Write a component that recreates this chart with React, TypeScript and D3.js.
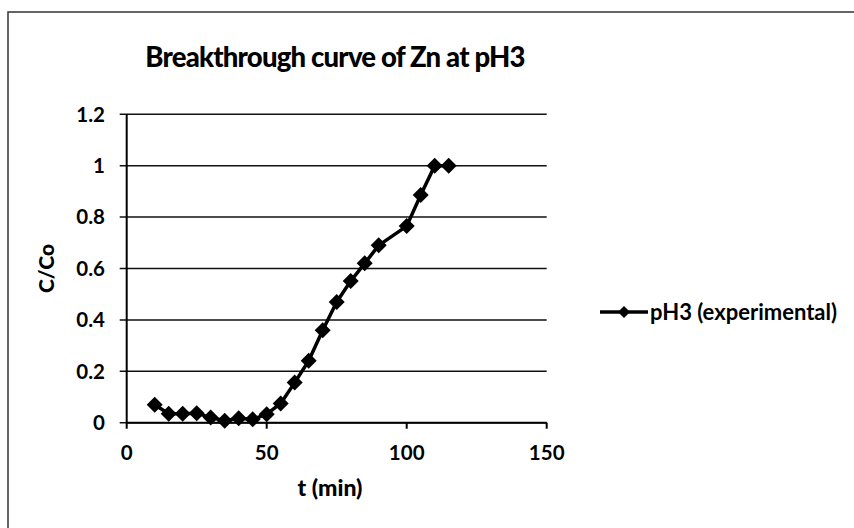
import React from "react";
import * as d3 from "d3";

// Breakthrough curve data: time (min) vs C/Co
const times = [10, 15, 20, 25, 30, 35, 40, 45, 50, 55, 60, 65, 70, 75, 80, 85, 90, 100, 105, 110, 115];
const ratios = [0.07, 0.035, 0.035, 0.037, 0.02, 0.008, 0.017, 0.013, 0.033, 0.075, 0.156, 0.241, 0.36, 0.47, 0.551, 0.62, 0.69, 0.765, 0.886, 1.0, 1.0];
const xTicks = [0, 50, 100, 150];
const yTicks = [0, 0.2, 0.4, 0.6, 0.8, 1, 1.2];
const seriesName = "pH3 (experimental)";
const chartTitle = "Breakthrough curve of Zn at pH3";

const W = 854;
const H = 528;
const FONT = "Lato, 'Open Sans', sans-serif";

const plot = { left: 126.7, right: 546.7, top: 114.3, bottom: 422.7 };

function diamond(cx: number, cy: number, r: number) {
  return `M${cx},${cy - r}L${cx + r},${cy}L${cx},${cy + r}L${cx - r},${cy}Z`;
}

export default function App() {
  const x = d3.scaleLinear().domain([0, 150]).range([plot.left, plot.right]);
  const y = d3.scaleLinear().domain([0, 1.2]).range([plot.bottom, plot.top]);
  const points = times.map((t, i) => [t, ratios[i]] as [number, number]);
  const line = d3
    .line<[number, number]>()
    .x((d) => x(d[0]))
    .y((d) => y(d[1]));
  const fmt = (v: number) => String(+v.toFixed(1));

  const legendY = 312;

  return (
    <div style={{ position: "fixed", left: 0, top: 0 }}>
      <svg width={W} height={H} style={{ display: "block", background: "#fff" }}>
        {/* chart border */}
        <rect x={8} y={12} width={W + 10} height={H + 10} fill="#fff" stroke="#333" strokeWidth={1.5} />

        <text x={335} y={67} textAnchor="middle" fontFamily={FONT} fontWeight={900} fontSize={27.5} letterSpacing={-0.8} fill="#000">
          {chartTitle}
        </text>

        {/* horizontal gridlines and y ticks */}
        {yTicks.map((v) => (
          <g key={v}>
            <line x1={plot.left - 7} x2={plot.right} y1={y(v)} y2={y(v)} stroke="#111" strokeWidth={1.5} />
            <text x={105} y={y(v)} dy="0.36em" textAnchor="end" fontFamily={FONT} fontWeight={700} fontSize={20.5} fill="#000">
              {fmt(v)}
            </text>
          </g>
        ))}

        {/* axes */}
        <line x1={plot.left} x2={plot.left} y1={plot.top} y2={plot.bottom} stroke="#000" strokeWidth={2} />
        <line x1={plot.left} x2={plot.right} y1={plot.bottom} y2={plot.bottom} stroke="#000" strokeWidth={2} />
        {xTicks.map((v) => (
          <g key={v}>
            <line x1={x(v)} x2={x(v)} y1={plot.bottom} y2={plot.bottom + 6} stroke="#000" strokeWidth={2} />
            <text x={x(v)} y={460} textAnchor="middle" fontFamily={FONT} fontWeight={700} fontSize={20.5} fill="#000">
              {v}
            </text>
          </g>
        ))}

        <text x={330} y={496} textAnchor="middle" fontFamily={FONT} fontWeight={900} fontSize={23} fill="#000">
          t (min)
        </text>
        <text
          transform={`translate(54,${(plot.top + plot.bottom) / 2}) rotate(-90)`}
          textAnchor="middle"
          fontFamily={FONT}
          fontWeight={900}
          fontSize={21}
          fill="#000"
        >
          C/Co
        </text>

        {/* series */}
        <path d={line(points) ?? ""} fill="none" stroke="#000" strokeWidth={3.5} strokeLinejoin="round" />
        {points.map((d, i) => (
          <path key={i} d={diamond(x(d[0]), y(d[1]), 8)} fill="#000" />
        ))}

        {/* legend */}
        <line x1={600} x2={648} y1={legendY} y2={legendY} stroke="#000" strokeWidth={3.5} />
        <path d={diamond(624, legendY, 6)} fill="#000" />
        <text x={650} y={legendY} dy="0.36em" fontFamily={FONT} fontWeight={700} fontSize={22} fill="#000">
          {seriesName}
        </text>
      </svg>
    </div>
  );
}
